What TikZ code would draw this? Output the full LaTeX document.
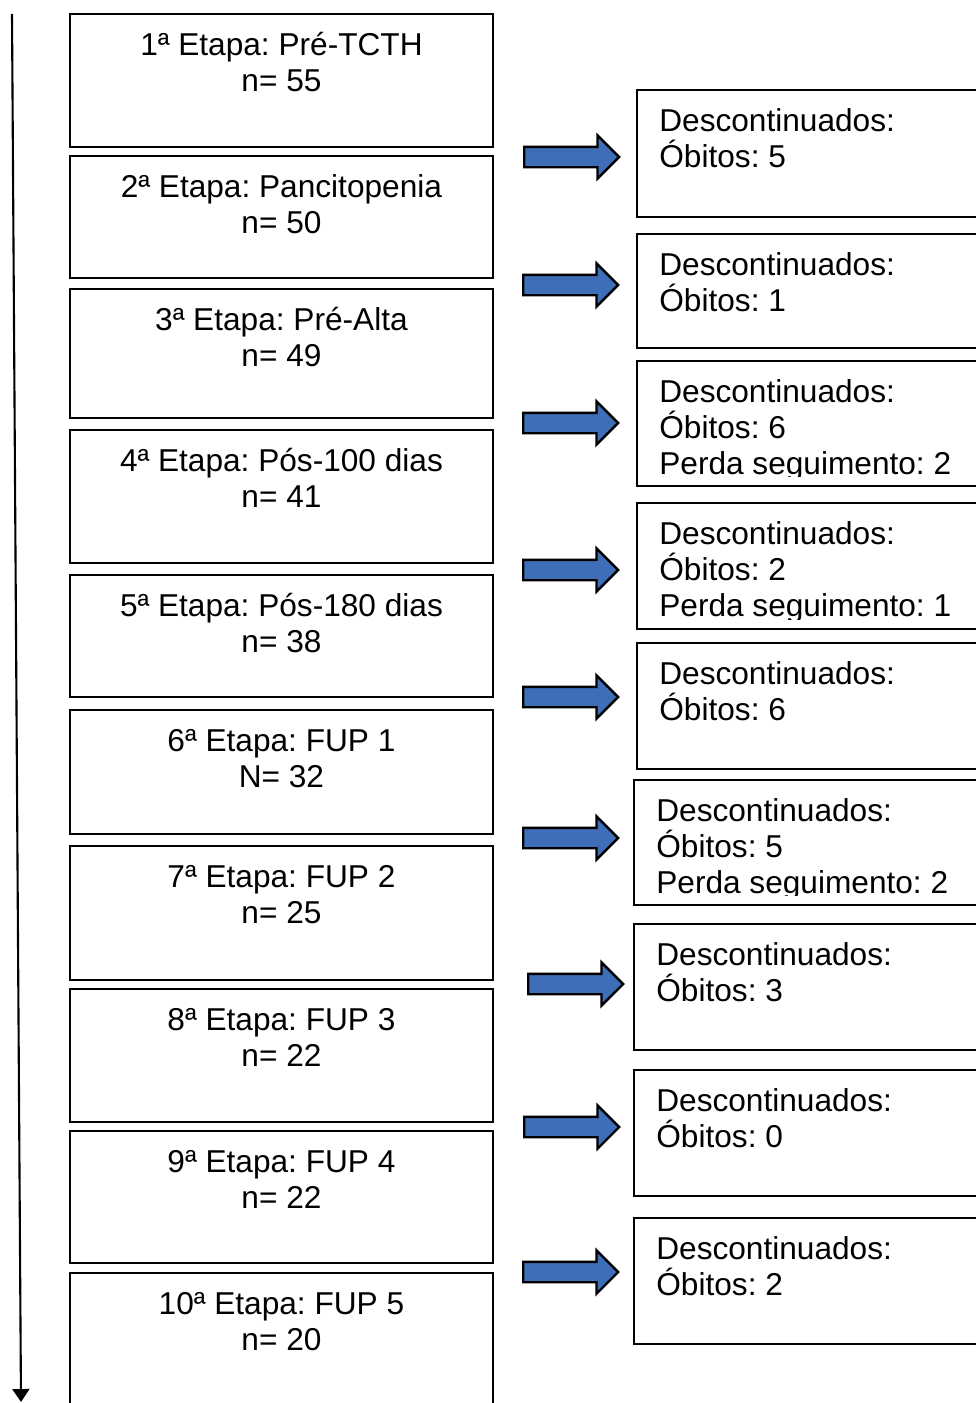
\documentclass[tikz,border=0pt]{standalone}
\usepackage{fontspec}
\setmainfont{Liberation Sans}
\frenchspacing
\usetikzlibrary{positioning}
\usetikzlibrary{shapes.arrows}
\usetikzlibrary{arrows.meta}
\usepackage{xcolor}
\definecolor{arrowblue}{RGB}{63,110,185}

\begin{document}
\begin{tikzpicture}[
		% pixel-like units (y grows downwards)
		x=0.02cm, y=-0.02cm,
		stage/.style={draw, line width=1.6pt, minimum width=8.46cm, anchor=north west, inner sep=0pt, outer sep=0pt},
		desc/.style={draw, line width=1.6pt, minimum width=7.5cm, anchor=north west, inner sep=0pt, outer sep=0pt},
		stagetxt/.style={anchor=base, align=center, inner sep=0pt, font=\fontsize{18}{20.7}\selectfont},
		desctxt/.style={anchor=base west, align=left, inner sep=0pt, font=\fontsize{18}{20.7}\selectfont},
		blockarrow/.style={single arrow, draw, line width=1.4pt, fill=arrowblue, single arrow head extend=0.23cm, single arrow head indent=0pt, minimum height=1.9cm, minimum width=0pt, inner xsep=0pt, inner ysep=0.18cm, anchor=west},
		]
		\useasboundingbox (0,0) rectangle (976,1403);

		% Stages (left column)
		\node[stage, minimum height=2.66cm] (pretcth) at (70,14) {};
		\node[stage, minimum height=2.44cm] (pancito) at (70,156) {};
		\node[stage, minimum height=2.58cm] (prealta) at (70,289) {};
		\node[stage, minimum height=2.66cm] (pos100) at (70,430) {};
		\node[stage, minimum height=2.44cm] (pos180) at (70,575) {};
		\node[stage, minimum height=2.48cm] (fup1) at (70,710) {};
		\node[stage, minimum height=2.68cm] (fup2) at (70,846) {};
		\node[stage, minimum height=2.66cm] (fup3) at (70,989) {};
		\node[stage, minimum height=2.64cm] (fup4) at (70,1131) {};
		\node[stage, minimum height=3cm] (fup5) at (70,1273) {};

		% base = last line, so shift by two lines
		\node[stagetxt] (pretcthtxt) at ([yshift=-1.55cm]pretcth.north) {1ª Etapa: Pré-TCTH\\n= 55};
		\node[stagetxt] (pancitotxt) at ([yshift=-1.55cm]pancito.north) {2ª Etapa: Pancitopenia\\n= 50};
		\node[stagetxt] (prealtatxt) at ([yshift=-1.55cm]prealta.north) {3ª Etapa: Pré-Alta\\n= 49};
		\node[stagetxt] (pos100txt) at ([yshift=-1.55cm]pos100.north) {4ª Etapa: Pós-100 dias\\n= 41};
		\node[stagetxt] (pos180txt) at ([yshift=-1.55cm]pos180.north) {5ª Etapa: Pós-180 dias\\n= 38};
		\node[stagetxt] (fup1txt) at ([yshift=-1.55cm]fup1.north) {6ª Etapa: FUP 1\\N= 32};
		\node[stagetxt] (fup2txt) at ([yshift=-1.55cm]fup2.north) {7ª Etapa: FUP 2\\n= 25};
		\node[stagetxt] (fup3txt) at ([yshift=-1.55cm]fup3.north) {8ª Etapa: FUP 3\\n= 22};
		\node[stagetxt] (fup4txt) at ([yshift=-1.55cm]fup4.north) {9ª Etapa: FUP 4\\n= 22};
		\node[stagetxt] (fup5txt) at ([yshift=-1.55cm]fup5.north) {10ª Etapa: FUP 5\\n= 20};

		% Discontinued (right column)
		\node[desc, minimum height=2.54cm] (desc1) at (637,90) {};
		\node[desc, minimum height=2.28cm] (desc2) at (637,234) {};
		\node[desc, minimum height=2.5cm] (desc3) at (637,361) {};
		\node[desc, minimum height=2.52cm] (desc4) at (637,503) {};
		\node[desc, minimum height=2.52cm] (desc5) at (637,643) {};
		\node[desc, minimum height=2.5cm] (desc6) at (634,780) {};
		\node[desc, minimum height=2.52cm] (desc7) at (634,924) {};
		\node[desc, minimum height=2.52cm] (desc8) at (634,1070) {};
		\node[desc, minimum height=2.52cm] (desc9) at (634,1218) {};

		\node[desctxt] (desc1txt) at ([xshift=0.44cm, yshift=-1.55cm]desc1.north west) {Descontinuados:\\Óbitos: 5};
		\node[desctxt] (desc2txt) at ([xshift=0.44cm, yshift=-1.55cm]desc2.north west) {Descontinuados:\\Óbitos: 1};
		\begin{scope}
			\clip (desc3.north west) rectangle ([yshift=0.18cm]desc3.south east);
			\node[desctxt] (desc3txt) at ([xshift=0.44cm, yshift=-2.28cm]desc3.north west) {Descontinuados:\\Óbitos: 6\\Perda seguimento: 2};
		\end{scope}
		\begin{scope}
			\clip (desc4.north west) rectangle ([yshift=0.18cm]desc4.south east);
			\node[desctxt] (desc4txt) at ([xshift=0.44cm, yshift=-2.28cm]desc4.north west) {Descontinuados:\\Óbitos: 2\\Perda seguimento: 1};
		\end{scope}
		\node[desctxt] (desc5txt) at ([xshift=0.44cm, yshift=-1.55cm]desc5.north west) {Descontinuados:\\Óbitos: 6};
		\begin{scope}
			\clip (desc6.north west) rectangle ([yshift=0.18cm]desc6.south east);
			\node[desctxt] (desc6txt) at ([xshift=0.44cm, yshift=-2.28cm]desc6.north west) {Descontinuados:\\Óbitos: 5\\Perda seguimento: 2};
		\end{scope}
		\node[desctxt] (desc7txt) at ([xshift=0.44cm, yshift=-1.55cm]desc7.north west) {Descontinuados:\\Óbitos: 3};
		\node[desctxt] (desc8txt) at ([xshift=0.44cm, yshift=-1.55cm]desc8.north west) {Descontinuados:\\Óbitos: 0};
		\node[desctxt] (desc9txt) at ([xshift=0.44cm, yshift=-1.55cm]desc9.north west) {Descontinuados:\\Óbitos: 2};

		% Block arrows between columns
		\node[blockarrow] (arr1) at (523,157) {};
		\node[blockarrow] (arr2) at (522,285) {};
		\node[blockarrow] (arr3) at (522,423) {};
		\node[blockarrow] (arr4) at (522,570) {};
		\node[blockarrow] (arr5) at (522,697) {};
		\node[blockarrow] (arr6) at (522,838) {};
		\node[blockarrow] (arr7) at (527,984) {};
		\node[blockarrow] (arr8) at (523,1127) {};
		\node[blockarrow] (arr9) at (522,1272) {};

		% Time axis
		\coordinate (axistop) at (12,14);
		\coordinate (axisend) at (21,1402);
		\draw[line width=1.2pt, -{Triangle[width=0.34cm, length=0.26cm]}] (axistop) -- (axisend);

	\end{tikzpicture}
\end{document}
